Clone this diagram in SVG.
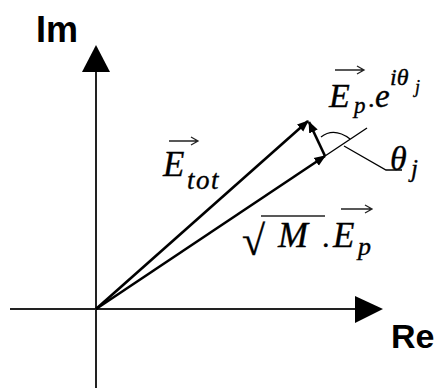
<svg xmlns="http://www.w3.org/2000/svg" width="440" height="388" viewBox="0 0 440 388">
<style>
.axis{stroke:#222;stroke-width:2;fill:none}
.vec{stroke:#000;stroke-width:2.6;fill:none}
.thin{stroke:#000;stroke-width:1.3;fill:none}
.ov{stroke:#222;stroke-width:1.3;fill:none}
.lbl{font-family:"Liberation Sans",Arial,sans-serif;font-weight:bold;fill:#000}
.m{font-family:"Liberation Serif","Times New Roman",serif;font-style:italic;fill:#000;stroke:#000;stroke-width:0.35}
.r{font-family:"Liberation Serif","Times New Roman",serif;fill:#000;stroke:#000;stroke-width:0.35}
</style>
<defs>
<marker id="ah" viewBox="0 0 10 10" refX="9" refY="5" markerWidth="4.5" markerHeight="4.5" orient="auto" markerUnits="strokeWidth">
<path d="M0,1 L10,5 L0,9 Z" fill="#000"/>
</marker>
</defs>
<rect width="440" height="388" fill="#fff"/>
<g id="axes">
<line class="axis" x1="96" y1="70" x2="96" y2="388"/>
<polygon points="96,45 82,72 110,72" fill="#000"/>
<line class="axis" x1="10" y1="309" x2="357" y2="309"/>
<polygon points="383,309 355,296 355,323" fill="#000"/>
</g>
<g id="label-im"><text class="lbl" x="36" y="42" font-size="36">Im</text></g>
<g id="label-re"><text class="lbl" x="391" y="348" font-size="34">Re</text></g>
<g id="connectors">
<line class="vec" x1="96" y1="309" x2="308" y2="121" marker-end="url(#ah)"/>
<line class="vec" x1="96" y1="309" x2="325" y2="156" marker-end="url(#ah)"/>
<line class="thin" x1="322" y1="158" x2="367" y2="128"/>
<line class="vec" x1="325" y1="156" x2="309" y2="122" marker-end="url(#ah)"/>
<path class="thin" d="M321,137 Q334,127 350,139" stroke-width="1"/>
<path class="thin" d="M344,146 L386,170 L402,170" stroke-width="1"/>
</g>
<g id="label-etot">
<path class="ov" d="M169,141 H197 M191,137 L198,141 L191,145"/>
<text class="m" x="163" y="176" font-size="35">E</text>
<text class="m" x="187" y="189" font-size="27" letter-spacing="1.5">tot</text>
</g>
<g id="label-ep-exp">
<path class="ov" d="M335,70 H363 M357,66 L364,70 L357,74"/>
<text class="m" x="329" y="107" font-size="34">E</text>
<text class="m" x="354" y="113" font-size="23">p</text>
<text class="r" x="368" y="107" font-size="26">.</text>
<text class="m" x="375" y="107" font-size="33">e</text>
<text class="m" x="390" y="85" font-size="24">iθ</text>
<text class="m" x="415" y="93" font-size="18">j</text>
</g>
<g id="label-theta">
<text class="m" x="390" y="170" font-size="34">θ</text>
<text class="m" x="411" y="177" font-size="25">j</text>
</g>
<g id="label-sqrtm-ep">
<text class="r" x="242" y="255" font-size="42">√</text>
<line class="ov" x1="261" y1="216" x2="325" y2="216" stroke-width="1.6"/>
<text class="m" x="278" y="247" font-size="36">M</text>
<text class="r" x="322" y="247" font-size="30">.</text>
<path class="ov" d="M341,209 H371 M365,205 L372,209 L365,213"/>
<text class="m" x="333" y="247" font-size="35">E</text>
<text class="m" x="358" y="255" font-size="26">p</text>
</g>
</svg>
